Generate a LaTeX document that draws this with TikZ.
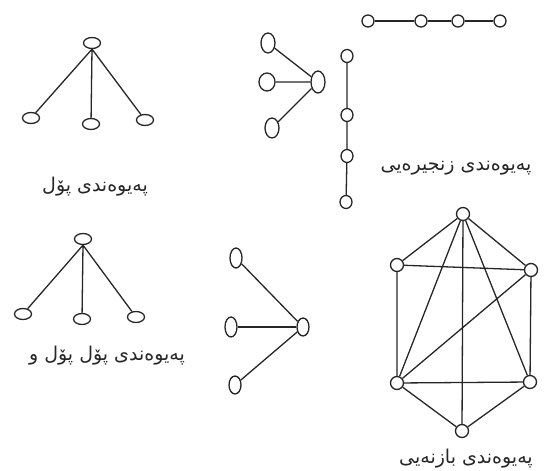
\documentclass[tikz,border=0pt]{standalone}
\usepackage{fontspec}
\usetikzlibrary{shapes.geometric}
\newfontfamily\arabicfont[Script=Arabic]{DejaVu Sans}
\TeXXeTstate=1
\begin{document}
\begin{tikzpicture}[x=1pt,y=-1pt,
  nd/.style={draw=black!85, ellipse, line width=1.3pt, inner sep=0pt, fill=white},
  hs/.style={nd, minimum width=17pt, minimum height=11pt},
  vs/.style={nd, minimum width=13pt, minimum height=20pt},
  sm/.style={nd, minimum width=12pt, minimum height=12pt},
  ed/.style={draw=black!85, line width=1.3pt},
  lbl/.style={font=\arabicfont\fontsize{19}{22}\selectfont, text=black!85, inner sep=0pt}]
\useasboundingbox (0,0) rectangle (546,471);
% top-left star
\node[hs] (t1) at (92,43) {};
\node[hs] (a1) at (31,118) {};
\node[hs] (a2) at (91,124) {};
\node[hs] (a3) at (145,120) {};
\draw[ed] (t1.south) -- (a1) (t1.south) -- (a2) (t1.south) -- (a3);
\node[lbl] (l1) at (95,187) {\beginR پەیوەندی پۆل\endR};
% top fan
\node[vs, minimum width=14pt] (f1) at (268,43) {};
\node[vs, minimum width=16pt, minimum height=18pt] (f2) at (267,82) {};
\node[vs, minimum width=14pt] (f3) at (272,128) {};
\node[vs, minimum width=14pt, minimum height=22pt] (fr) at (318,82) {};
\draw[ed] (f1) -- (fr) (f2) -- (fr) (f3) -- (fr);
% vertical chain
\node[sm, minimum height=13pt] (c1) at (347,56) {};
\node[sm, minimum height=13pt] (c2) at (347,115) {};
\node[sm, minimum height=13pt] (c3) at (347,156) {};
\node[sm, minimum height=13pt] (c4) at (346,202) {};
\draw[ed] (c1) -- (c2) -- (c3) -- (c4);
% horizontal chain
\node[sm] (h1) at (368,21) {};
\node[sm] (h2) at (421,21) {};
\node[sm] (h3) at (458,21) {};
\node[sm] (h4) at (500,21) {};
\draw[ed] (h1) -- (h2) -- (h3) -- (h4);
\node[lbl] (l2) at (456,168) {\beginR پەیوەندی زنجیرەیی\endR};
% bottom-left star
\node[hs] (t2) at (83,239) {};
\node[hs] (b1) at (23,314) {};
\node[hs] (b2) at (82,319) {};
\node[hs] (b3) at (136,317) {};
\draw[ed] (t2.south) -- (b1) (t2.south) -- (b2) (t2.south) -- (b3);
\node[lbl] (l3) at (107,356) {\beginR پەیوەندی پۆل پۆل و\endR};
% bottom fan
\node[vs, minimum width=12pt] (g1) at (236,258) {};
\node[vs, minimum width=12pt] (g2) at (231,327) {};
\node[vs, minimum width=12pt, minimum height=18pt] (g3) at (235,385) {};
\node[vs, minimum width=12pt, minimum height=18pt] (gr) at (303,327) {};
\draw[ed] (g1) -- (gr) (g3) -- (gr);
\draw[ed, line width=2.2pt] (g2) -- (gr);
% hexagon
\node[sm, minimum size=13pt] (p1) at (463,214) {};
\node[sm, minimum size=13pt] (p2) at (397,265) {};
\node[sm, minimum size=13pt] (p3) at (531,270) {};
\node[sm, minimum size=13pt] (p4) at (397,383) {};
\node[sm, minimum size=13pt] (p5) at (530,382) {};
\node[sm, minimum size=13pt] (p6) at (462,431) {};
\draw[ed] (p1) -- (p2) (p1) -- (p3) (p1) -- (p4) (p1) -- (p5) (p1) -- (p6)
  (p2) -- (p3) (p2) -- (p4) (p3) -- (p5) (p3) -- (p4) (p4) -- (p5)
  (p4) -- (p6) (p5) -- (p6);
\node[lbl] (l4) at (466,459) {\beginR پەیوەندی بازنەیی\endR};
\end{tikzpicture}
\end{document}
